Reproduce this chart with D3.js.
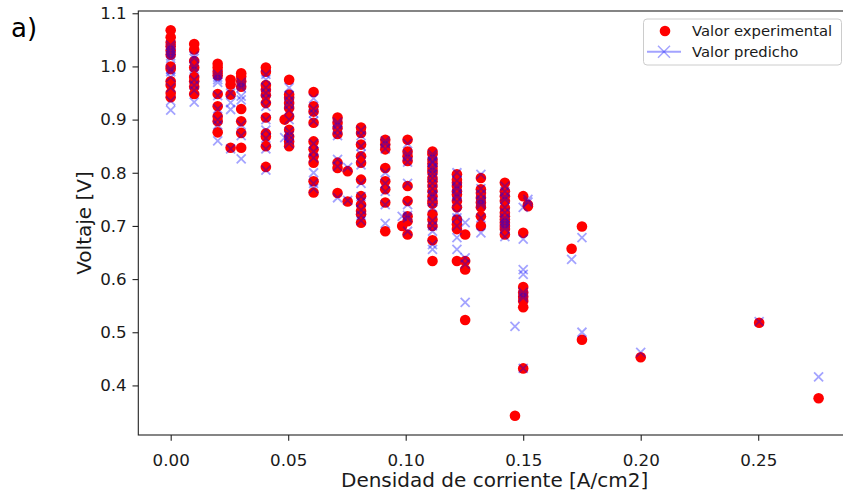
<!DOCTYPE html>
<html><head><meta charset="utf-8">
<script src="https://cdn.jsdelivr.net/npm/d3@7"></script>
<style>
html,body{margin:0;padding:0;background:#fff;}
svg{display:block;font-family:"DejaVu Sans",sans-serif;}
</style></head><body>
<svg id="chart" width="843" height="495"></svg>
<script>
// Current density of each measurement group [A/cm2]
const densities = [
  0.000, 0.010, 0.020, 0.0255, 0.030, 0.0405, 0.0504, 0.0485, 0.0608, 0.071,
  0.0753, 0.081, 0.0913, 0.1008, 0.0985, 0.1114, 0.1218, 0.1253, 0.132, 0.1422,
  0.1465, 0.150, 0.152, 0.1706, 0.175, 0.175, 0.200, 0.2504, 0.2757
];
// Measured voltage [V] for each group
const voltageExp = [
  [1.068, 1.055, 1.045, 1.038, 1.030, 1.022, 1.000, 0.995, 0.972, 0.965, 0.950, 0.942],
  [1.042, 1.032, 1.010, 0.998, 0.980, 0.972, 0.962, 0.948],
  [1.005, 0.998, 0.990, 0.983, 0.948, 0.925, 0.906, 0.897, 0.876],
  [0.975, 0.966, 0.947, 0.847],
  [0.987, 0.981, 0.972, 0.962, 0.920, 0.897, 0.875, 0.847],
  [0.998, 0.990, 0.965, 0.956, 0.946, 0.931, 0.904, 0.874, 0.868, 0.850, 0.811],
  [0.975, 0.947, 0.941, 0.931, 0.922, 0.906, 0.881, 0.868, 0.859, 0.850],
  [0.900],
  [0.952, 0.925, 0.915, 0.894, 0.859, 0.844, 0.831, 0.819, 0.784, 0.763],
  [0.904, 0.894, 0.884, 0.873, 0.819, 0.809, 0.762],
  [0.803, 0.746],
  [0.885, 0.875, 0.853, 0.831, 0.819, 0.787, 0.756, 0.740, 0.728, 0.722, 0.706],
  [0.862, 0.853, 0.844, 0.809, 0.784, 0.769, 0.744, 0.690],
  [0.862, 0.840, 0.831, 0.822, 0.775, 0.747, 0.718, 0.709, 0.684],
  [0.700],
  [0.840, 0.835, 0.825, 0.818, 0.812, 0.805, 0.800, 0.790, 0.784, 0.775, 0.765, 0.756, 0.747, 0.742, 0.722, 0.712, 0.700, 0.673, 0.634],
  [0.797, 0.787, 0.781, 0.775, 0.765, 0.759, 0.747, 0.735, 0.712, 0.703, 0.694, 0.634],
  [0.684, 0.634, 0.618, 0.523],
  [0.790, 0.769, 0.762, 0.753, 0.744, 0.735, 0.718, 0.700],
  [0.781, 0.765, 0.756, 0.747, 0.734, 0.725, 0.718, 0.712, 0.706, 0.700, 0.694, 0.684],
  [0.343],
  [0.756, 0.687, 0.585, 0.575, 0.567, 0.559, 0.547, 0.432],
  [0.740, 0.737],
  [0.657],
  [0.699],
  [0.486],
  [0.453],
  [0.518],
  [0.376]
];
// Model-predicted voltage [V], same order as voltageExp
const voltagePred = [
  [1.040, 1.035, 1.030, 1.025, 1.020, 1.015, 0.995, 0.990, 0.980, 0.960, 0.935, 0.918],
  [1.020, 1.015, 1.000, 0.995, 0.975, 0.965, 0.955, 0.933],
  [0.985, 0.980, 0.975, 0.970, 0.945, 0.920, 0.900, 0.890, 0.860],
  [0.950, 0.932, 0.919, 0.845],
  [0.970, 0.965, 0.960, 0.944, 0.937, 0.890, 0.870, 0.826],
  [0.985, 0.975, 0.960, 0.950, 0.940, 0.925, 0.900, 0.880, 0.865, 0.845, 0.805],
  [0.960, 0.945, 0.935, 0.928, 0.918, 0.900, 0.878, 0.870, 0.862, 0.855],
  [0.866],
  [0.940, 0.920, 0.912, 0.897, 0.855, 0.840, 0.828, 0.800, 0.780, 0.770],
  [0.895, 0.890, 0.880, 0.870, 0.825, 0.812, 0.753],
  [0.810, 0.748],
  [0.880, 0.870, 0.850, 0.835, 0.815, 0.780, 0.755, 0.745, 0.730, 0.720, 0.710],
  [0.860, 0.855, 0.845, 0.800, 0.780, 0.765, 0.740, 0.705],
  [0.855, 0.835, 0.830, 0.820, 0.780, 0.740, 0.720, 0.715, 0.690],
  [0.718],
  [0.835, 0.830, 0.822, 0.819, 0.810, 0.805, 0.798, 0.790, 0.780, 0.770, 0.760, 0.755, 0.745, 0.735, 0.710, 0.700, 0.690, 0.665, 0.656],
  [0.800, 0.785, 0.775, 0.770, 0.760, 0.755, 0.745, 0.725, 0.715, 0.700, 0.678, 0.656],
  [0.706, 0.640, 0.628, 0.556],
  [0.797, 0.770, 0.760, 0.750, 0.745, 0.740, 0.715, 0.687],
  [0.775, 0.765, 0.755, 0.750, 0.735, 0.725, 0.715, 0.710, 0.705, 0.700, 0.695, 0.680],
  [0.511],
  [0.735, 0.675, 0.618, 0.609, 0.575, 0.570, 0.565, 0.432],
  [0.750, 0.745],
  [0.637],
  [0.678],
  [0.500],
  [0.462],
  [0.520],
  [0.416]
];
const xTicks = [0.00, 0.05, 0.10, 0.15, 0.20, 0.25];
const yTicks = [0.4, 0.5, 0.6, 0.7, 0.8, 0.9, 1.0, 1.1];
const seriesNames = ["Valor experimental", "Valor predicho"];

const points = densities.flatMap((d, i) =>
  voltageExp[i].map((v, j) => ({ x: d, exp: v, pred: voltagePred[i][j] })));

const svg = d3.select("#chart");
const plot = { left: 138.3, right: 851, top: 11, bottom: 435 };

// 5% padding on both axes, like the default autoscale margins
function padded(ext) {
  const p = (ext[1] - ext[0]) * 0.05;
  return [ext[0] - p, ext[1] + p];
}
const x = d3.scaleLinear()
  .domain(padded(d3.extent(points, p => p.x)))
  .range([plot.left, plot.right]);
const y = d3.scaleLinear()
  .domain(padded(d3.extent(points.flatMap(p => [p.exp, p.pred]))))
  .range([plot.bottom, plot.top]);

const red = "#ff0000";
const blue = "#0000ff";
const crossHalf = 4.5;
const crossOpacity = 0.36;

// Experimental points
svg.append("g").selectAll("circle").data(points).join("circle")
  .attr("cx", d => x(d.x)).attr("cy", d => y(d.exp))
  .attr("r", 5.3).attr("fill", red);

// Predicted points (translucent crosses on top)
const crossPath = `M${-crossHalf},${-crossHalf}L${crossHalf},${crossHalf}M${-crossHalf},${crossHalf}L${crossHalf},${-crossHalf}`;
svg.append("g").selectAll("path").data(points).join("path")
  .attr("transform", d => `translate(${x(d.x)},${y(d.pred)})`)
  .attr("d", crossPath)
  .attr("stroke", blue).attr("stroke-opacity", crossOpacity)
  .attr("stroke-width", 1.8).attr("fill", "none");

// Axes
const tickFont = 16.7;
const xAxis = svg.append("g").attr("transform", `translate(0,${plot.bottom})`)
  .call(d3.axisBottom(x).tickValues(xTicks).tickFormat(d3.format(".2f"))
    .tickSize(5.8).tickPadding(13).tickSizeOuter(0));
const yAxis = svg.append("g").attr("transform", `translate(${plot.left},0)`)
  .call(d3.axisLeft(y).tickValues(yTicks).tickFormat(d3.format(".1f"))
    .tickSize(5.8).tickPadding(5.8).tickSizeOuter(0));
[xAxis, yAxis].forEach(a => {
  a.select(".domain").remove();
  a.selectAll(".tick line").attr("stroke", "#222").attr("stroke-width", 1.1);
  a.selectAll(".tick text").attr("fill", "#1a1a1a")
    .style("font-size", tickFont + "px").style("font-family", "DejaVu Sans");
});

// Frame
svg.append("rect")
  .attr("x", plot.left).attr("y", plot.top)
  .attr("width", plot.right - plot.left).attr("height", plot.bottom - plot.top)
  .attr("fill", "none").attr("stroke", "#222").attr("stroke-width", 1.1);

// Axis titles
svg.append("text")
  .attr("x", (plot.left + plot.right) / 2).attr("y", 487)
  .attr("text-anchor", "middle").attr("fill", "#1a1a1a")
  .style("font-size", "20px")
  .text("Densidad de corriente [A/cm2]");
svg.append("text")
  .attr("transform", `translate(91,${(plot.top + plot.bottom) / 2}) rotate(-90)`)
  .attr("text-anchor", "middle").attr("fill", "#1a1a1a")
  .style("font-size", "20px")
  .text("Voltaje [V]");

// Panel tag
svg.append("text").attr("x", 11).attr("y", 37)
  .attr("fill", "#000").style("font-size", "26px").text("a)");

// Legend
const lg = svg.append("g");
lg.append("rect").attr("x", 643.5).attr("y", 19).attr("width", 198).attr("height", 46)
  .attr("rx", 3.5).attr("fill", "#fff").attr("fill-opacity", 0.8)
  .attr("stroke", "#cccccc").attr("stroke-width", 1);
lg.append("circle").attr("cx", 665).attr("cy", 31).attr("r", 5.3).attr("fill", red);
lg.append("line").attr("x1", 647).attr("x2", 681).attr("y1", 51.7).attr("y2", 51.7)
  .attr("stroke", blue).attr("stroke-opacity", crossOpacity).attr("stroke-width", 2);
lg.append("path").attr("transform", "translate(664,51.7)")
  .attr("d", "M-6,-6L6,6M-6,6L6,-6")
  .attr("stroke", blue).attr("stroke-opacity", crossOpacity).attr("stroke-width", 1.5).attr("fill", "none");
lg.selectAll("text.lbl").data(seriesNames).join("text").attr("class", "lbl")
  .attr("x", 692).attr("y", (d, i) => 31 + i * 20.7).attr("dy", "0.35em")
  .attr("fill", "#1a1a1a").style("font-size", "14.8px").text(d => d);
</script>
</body></html>
